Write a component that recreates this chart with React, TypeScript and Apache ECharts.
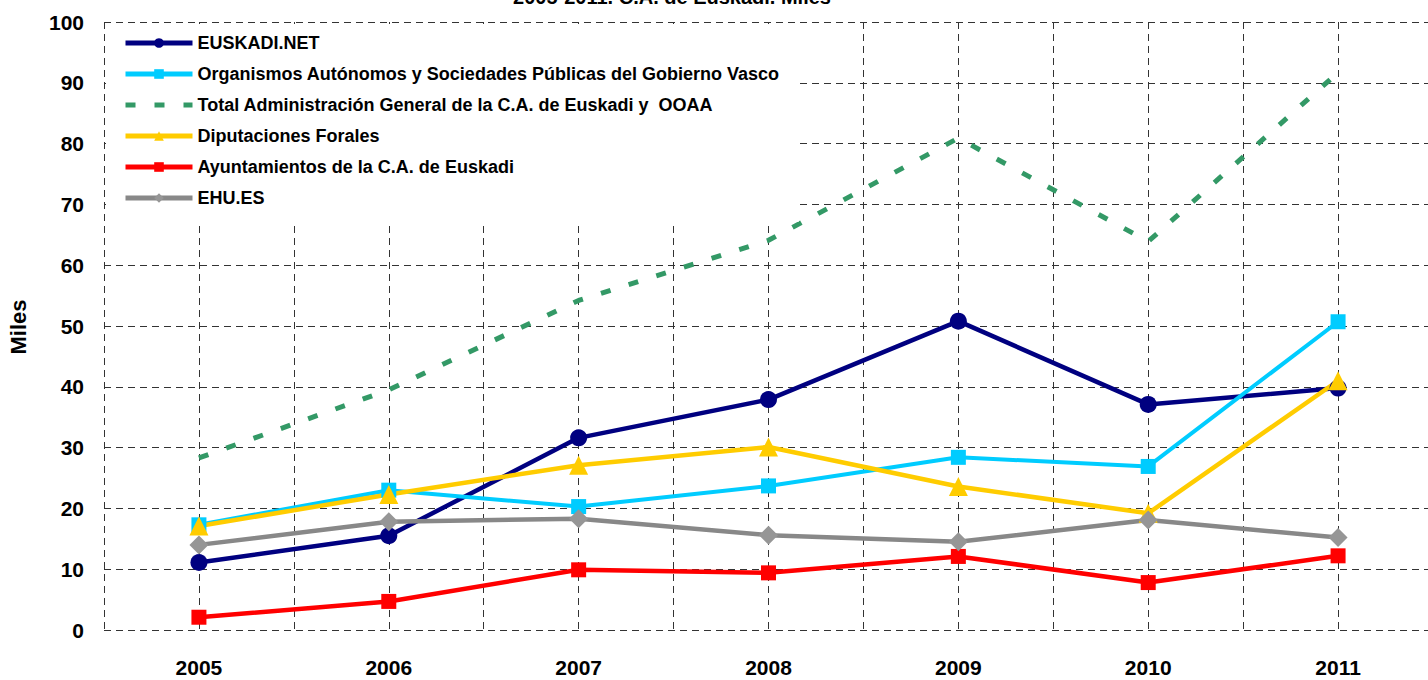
import React, { useEffect, useRef } from "react";
import * as echarts from "echarts";

const FONT = "'Liberation Sans', Arial, Helvetica, sans-serif";
const NARROW = "'Liberation Sans Narrow', 'Arial Narrow', 'Liberation Sans', Arial, sans-serif";

const titleText = "2005-2011. C.A. de Euskadi. Miles";
const yAxisName = "Miles";

const years = ["2005", "2006", "2007", "2008", "2009", "2010", "2011"];

const nameEuskadiNet = "EUSKADI.NET";
const nameOrganismos = "Organismos Autónomos y Sociedades Públicas del Gobierno Vasco";
const nameTotal = "Total Administración General de la C.A. de Euskadi y  OOAA";
const nameDiputaciones = "Diputaciones Forales";
const nameAyuntamientos = "Ayuntamientos de la C.A. de Euskadi";
const nameEhu = "EHU.ES";

const euskadiNet = [11.1, 15.5, 31.6, 37.9, 50.8, 37.1, 39.8];
const organismos = [17.3, 23.0, 20.3, 23.7, 28.4, 26.9, 50.7];
const totalAdmin = [28.3, 39.5, 54.2, 64.1, 80.9, 63.9, 91.7];
const diputaciones = [17.1, 22.3, 27.1, 30.1, 23.6, 19.2, 41.0];
const ayuntamientos = [2.1, 4.7, 9.9, 9.4, 12.1, 7.8, 12.2];
const ehu = [14.0, 17.8, 18.3, 15.6, 14.5, 18.1, 15.2];

const yMin = 0;
const yMax = 100;
const yStep = 10;

const gridLine = { type: [7, 5] as number[], color: "#333333", width: 1 };

export default function App() {
  const ref = useRef<HTMLDivElement>(null);

  useEffect(() => {
    if (!ref.current) return;
    const chart = echarts.init(ref.current, null, { renderer: "svg" });
    const narrowNames = [nameEuskadiNet, nameEhu];
    chart.setOption({
      animation: false,
      backgroundColor: "#ffffff",
      textStyle: { fontFamily: FONT },
      graphic: [
        {
          type: "text",
          x: 672,
          y: -3,
          style: {
            text: titleText,
            fontSize: 20,
            fontWeight: "bold",
            fontFamily: FONT,
            fill: "#000",
            align: "center",
            verticalAlign: "middle",
          },
        },
        {
          type: "text",
          x: 18,
          y: 327,
          rotation: Math.PI / 2,
          style: {
            text: yAxisName,
            fontSize: 22,
            fontWeight: "bold",
            fontFamily: FONT,
            fill: "#000",
            align: "center",
            verticalAlign: "middle",
          },
        },
      ],
      legend: {
        orient: "vertical",
        left: 106,
        top: 24,
        padding: [10, 19, 15, 17],
        backgroundColor: "#ffffff",
        itemWidth: 67,
        itemHeight: 12,
        itemGap: 13,
        lineStyle: { width: 5 },
        data: [
          nameEuskadiNet,
          nameOrganismos,
          { name: nameTotal, itemStyle: { opacity: 0 } },
          nameDiputaciones,
          nameAyuntamientos,
          nameEhu,
        ],
        formatter: (name: string) => (narrowNames.includes(name) ? `{n|${name}}` : name),
        textStyle: {
          fontSize: 18,
          fontWeight: "bold",
          color: "#000",
          fontFamily: FONT,
          rich: {
            n: { fontSize: 18, fontWeight: "bold", color: "#000", fontFamily: NARROW },
          },
        },
      },
      grid: { left: 104, top: 22, width: 1329, height: 608, containLabel: false },
      xAxis: [
        {
          type: "category",
          data: years,
          boundaryGap: true,
          axisLine: { show: false },
          axisTick: { show: false },
          splitLine: { show: false },
          axisLabel: { fontSize: 21, fontWeight: "bold", color: "#000", margin: 27, fontFamily: FONT },
        },
        {
          type: "value",
          min: 0,
          max: years.length * 2,
          interval: 1,
          position: "bottom",
          axisLine: { show: false },
          axisTick: { show: false },
          axisLabel: { show: false },
          splitLine: { show: true, lineStyle: gridLine },
        },
      ],
      yAxis: {
        type: "value",
        min: yMin,
        max: yMax,
        interval: yStep,
        axisLine: { show: false },
        axisTick: { show: false },
        axisLabel: { fontSize: 21, fontWeight: "bold", color: "#000", margin: 20, fontFamily: FONT },
        splitLine: { show: true, lineStyle: gridLine },
      },
      series: [
        {
          name: nameEuskadiNet,
          type: "line",
          xAxisIndex: 0,
          data: euskadiNet,
          symbol: "circle",
          symbolSize: 17,
          lineStyle: { color: "#000080", width: 4.5 },
          itemStyle: { color: "#000080" },
        },
        {
          name: nameOrganismos,
          type: "line",
          xAxisIndex: 0,
          data: organismos,
          symbol: "rect",
          symbolSize: 15,
          lineStyle: { color: "#00CCFF", width: 4 },
          itemStyle: { color: "#00CCFF" },
        },
        {
          name: nameTotal,
          type: "line",
          xAxisIndex: 0,
          data: totalAdmin,
          symbol: "none",
          lineStyle: { color: "#339966", width: 5, type: [10, 19] },
          itemStyle: { color: "#339966" },
        },
        {
          name: nameDiputaciones,
          type: "line",
          xAxisIndex: 0,
          data: diputaciones,
          symbol: "triangle",
          symbolSize: 19,
          lineStyle: { color: "#FFCC00", width: 4.5 },
          itemStyle: { color: "#FFCC00" },
        },
        {
          name: nameAyuntamientos,
          type: "line",
          xAxisIndex: 0,
          data: ayuntamientos,
          symbol: "rect",
          symbolSize: 15,
          lineStyle: { color: "#FF0000", width: 4.5 },
          itemStyle: { color: "#FF0000" },
        },
        {
          name: nameEhu,
          type: "line",
          xAxisIndex: 0,
          data: ehu,
          symbol: "diamond",
          symbolSize: 19,
          lineStyle: { color: "#888888", width: 4.5 },
          itemStyle: { color: "#969696" },
        },
      ],
    });
    return () => chart.dispose();
  }, []);

  return (
    <div
      style={{
        position: "absolute",
        left: 0,
        top: 0,
        width: 1428,
        height: 680,
        overflow: "hidden",
        background: "#fff",
      }}
    >
      <div ref={ref} style={{ width: 1440, height: 680 }} />
    </div>
  );
}
